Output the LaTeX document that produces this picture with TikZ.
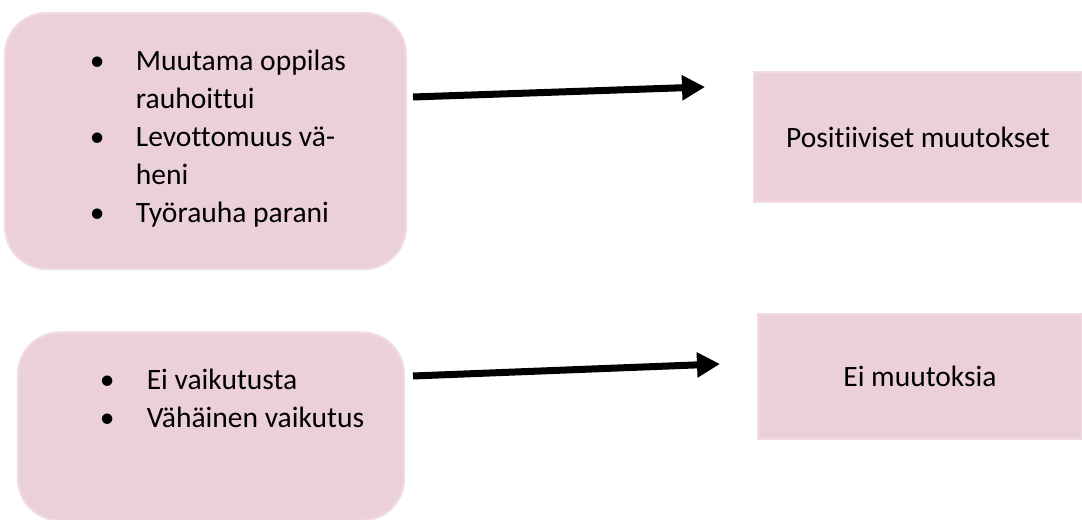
\documentclass[tikz,border=0pt]{standalone}
\usepackage{fontspec}
\setmainfont{Carlito}[Ligatures={NoCommon}]
\usetikzlibrary{arrows.meta}
\definecolor{pinkfill}{RGB}{235,208,220}
\definecolor{pinkedge}{RGB}{240,218,228}

\begin{document}
\begin{tikzpicture}[
    roundbox/.style={fill=pinkfill, draw=pinkedge, line width=0.6pt, rounded corners=0.42cm},
    flatbox/.style={fill=pinkfill, draw=pinkedge, line width=0.6pt, font=\fontsize{8.4}{10.8}\selectfont},
    boxtext/.style={font=\fontsize{8.4}{10.8}\selectfont, inner sep=0pt, align=left},
    bigarrow/.style={line width=0.07cm, -{Triangle[length=0.23cm, width=0.24cm]}}
]
    \useasboundingbox (0,0) rectangle (10.82,5.2);

    % Upper row
    \node[roundbox, minimum width=4.01cm, minimum height=2.56cm] (rauha) at (2.055, 3.79) {};
    \node[boxtext] (rauhalista) at (2.18, 3.81) {%
        \begin{tabular}{@{}p{0.46cm}@{}l@{}}
        \textbullet & Muutama oppilas\\
                    & rauhoittui\\
        \textbullet & Levottomuus vä-\\
                    & heni\\
        \textbullet & Työrauha parani
        \end{tabular}};
    \node[flatbox, minimum width=3.28cm, minimum height=1.30cm] (positiiviset) at (9.18, 3.83) {Positiiviset muutokset};

    \coordinate (nuoli1a) at (4.13, 4.23);
    \coordinate (nuoli1b) at (7.05, 4.33);
    \draw[bigarrow] (nuoli1a) -- (nuoli1b);

    % Lower row
    \node[roundbox, minimum width=3.86cm, minimum height=1.88cm] (vaikutus) at (2.11, 0.935) {};
    \node[boxtext] (vaikutuslista) at (2.32, 1.19) {%
        \begin{tabular}{@{}p{0.47cm}@{}l@{}}
        \textbullet & Ei vaikutusta\\
        \textbullet & Vähäinen vaikutus
        \end{tabular}};
    \node[flatbox, minimum width=3.24cm, minimum height=1.25cm] (eimuutoksia) at (9.20, 1.435) {Ei muutoksia};

    \coordinate (nuoli2a) at (4.13, 1.44);
    \coordinate (nuoli2b) at (7.20, 1.56);
    \draw[bigarrow] (nuoli2a) -- (nuoli2b);
\end{tikzpicture}
\end{document}
